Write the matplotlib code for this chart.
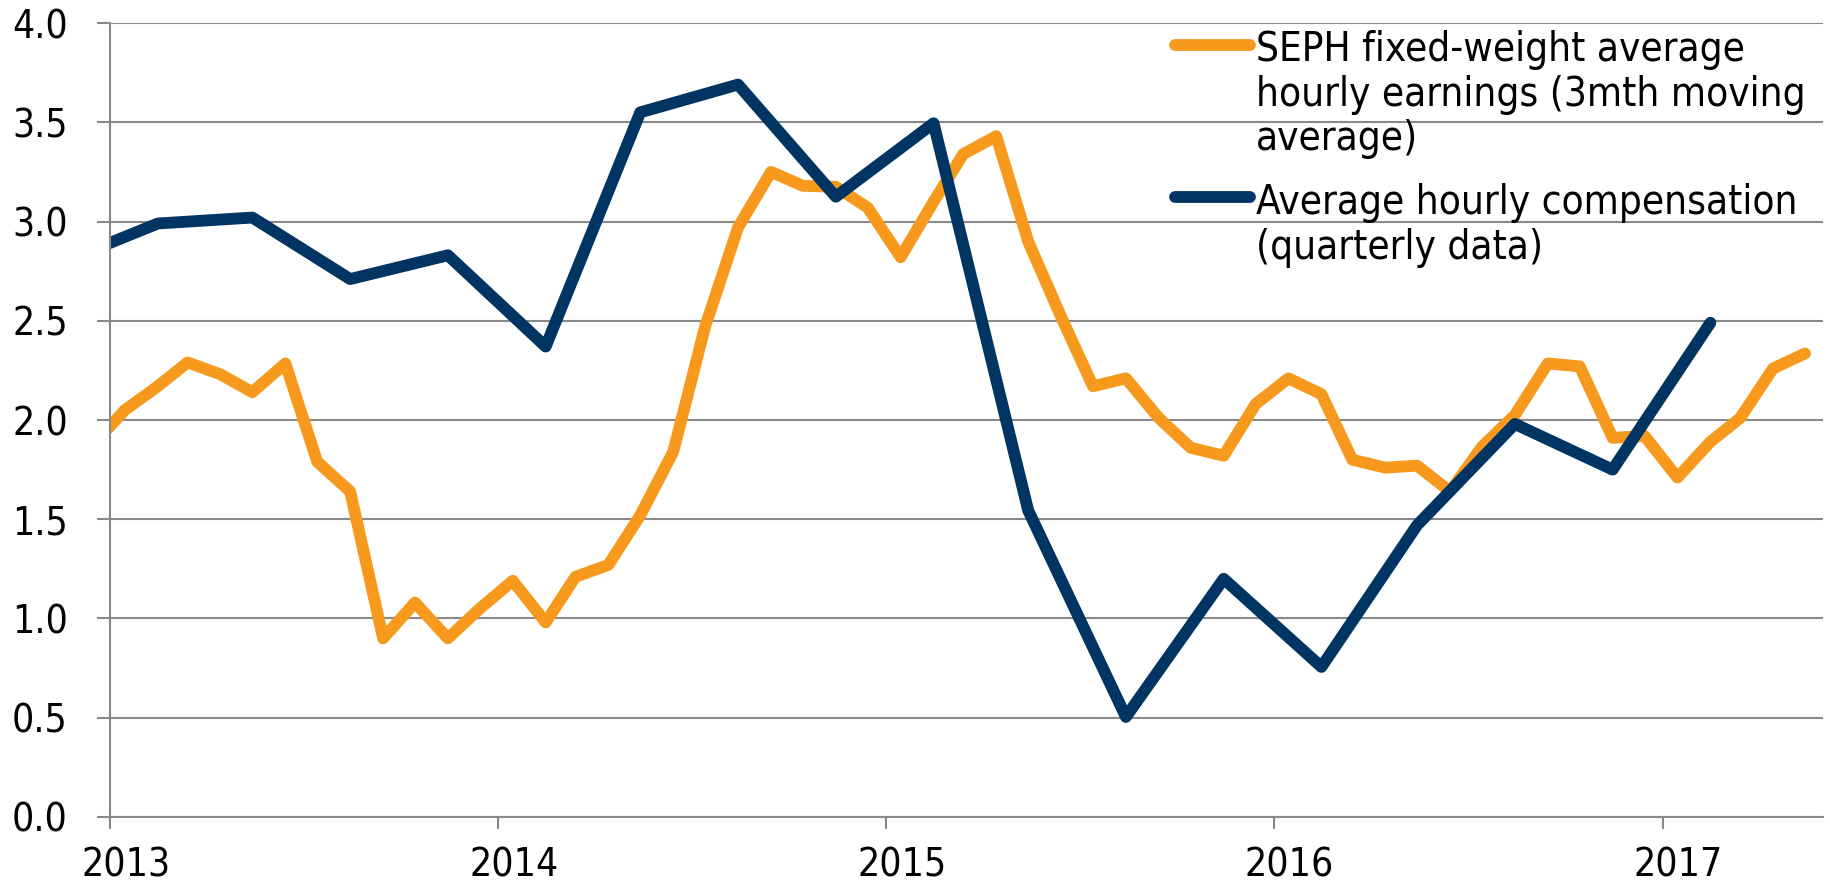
import numpy as np
import pandas as pd
import matplotlib
matplotlib.use('Agg')
import matplotlib.pyplot as plt
import matplotlib.dates as mdates
from matplotlib.offsetbox import HPacker

plt.rcParams['font.family'] = ['DejaVu Sans']
plt.rcParams['font.stretch'] = 'condensed'

# monthly series, Dec 2012 .. May 2017 (plotted mid-month)
seph_months = pd.date_range('2012-12-01', '2017-05-01', freq='MS') + pd.Timedelta(days=14)
seph = [1.87, 2.05, 2.17, 2.29, 2.23, 2.14, 2.285, 1.79, 1.64, 0.90, 1.08, 0.90,
        1.05, 1.19, 0.98, 1.21, 1.27, 1.52, 1.84, 2.47, 2.97, 3.25, 3.18, 3.175,
        3.07, 2.82, 3.10, 3.34, 3.43, 2.90, 2.52, 2.17, 2.21, 2.01, 1.86, 1.82,
        2.08, 2.21, 2.13, 1.80, 1.76, 1.77, 1.64, 1.865, 2.025, 2.285, 2.27, 1.91,
        1.92, 1.71, 1.89, 2.01, 2.26, 2.335]

# quarterly series, Q4 2012 .. Q1 2017 (plotted at mid-quarter month)
comp_quarters = pd.date_range('2012-11-01', '2017-02-01', freq='3MS') + pd.Timedelta(days=14)
comp = [2.79, 2.99, 3.02, 2.71, 2.83, 2.37, 3.55, 3.69, 3.125, 3.495,
        1.545, 0.504, 1.20, 0.756, 1.47, 1.98, 1.75, 2.49]

labels = ['SEPH fixed-weight average\nhourly earnings (3mth moving\naverage)',
          'Average hourly compensation\n(quarterly data)']

orange = '#F7991C'
navy = '#003462'
grey = '#898989'
fs = 29
tfs = 28

fig = plt.figure(figsize=(18.3, 8.86), dpi=100)
ax = fig.add_axes([0.0601, 0.0779, 0.9361, 0.8961])

ax.plot(seph_months, seph, color=orange, lw=8.5, solid_joinstyle='round',
        solid_capstyle='round', label=labels[0])
ax.plot(comp_quarters, comp, color=navy, lw=8.5, solid_joinstyle='round',
        solid_capstyle='round', label=labels[1])

ax.set_ylim(0, 4)
ax.set_yticks(np.arange(0, 4.01, 0.5))
ax.set_yticklabels([f'{v:.1f}' for v in np.arange(0, 4.01, 0.5)])
ax.set_xlim(pd.Timestamp('2013-01-01'), pd.Timestamp('2017-06-01'))

ax.xaxis.set_major_locator(mdates.YearLocator())
ax.xaxis.set_major_formatter(plt.NullFormatter())
ax.xaxis.set_minor_locator(mdates.MonthLocator(bymonth=1, bymonthday=16))
ax.xaxis.set_minor_formatter(mdates.DateFormatter('%Y'))

ax.grid(axis='y', color=grey, lw=1.5)
ax.set_axisbelow(True)
for s in ['top', 'right']:
    ax.spines[s].set_visible(False)
for s in ['left', 'bottom']:
    ax.spines[s].set_color(grey)
    ax.spines[s].set_linewidth(1.5)

ax.tick_params(axis='y', which='major', length=9.4, width=1.5, color=grey,
               labelsize=tfs, pad=21)
ax.tick_params(axis='x', which='major', length=8.6, width=1.5, color=grey)
ax.tick_params(axis='x', which='minor', length=0, labelsize=tfs, pad=21)

leg = ax.legend(loc='upper left', bbox_to_anchor=(0.610, 1.016), frameon=False,
                fontsize=fs, borderpad=0, handlelength=1.85, handletextpad=0.15,
                labelspacing=0.6)
for t in leg.get_texts():
    t.set_linespacing(1.14)
for hp in leg.findobj(HPacker):
    hp.align = 'top'

fig.savefig('out.png', dpi=100)
